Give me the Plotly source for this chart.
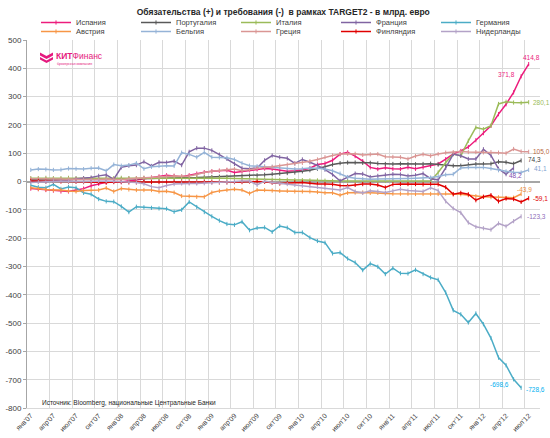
import plotly.graph_objects as go

# ---------------- data (billion EUR, monthly from Jan 2007) ----------------
tick_labels = ["янв'07", "апр'07", "июл'07", "окт'07", "янв'08", "апр'08", "июл'08", "окт'08",
               "янв'09", "апр'09", "июл'09", "окт'09", "янв'10", "апр'10", "июл'10", "окт'10",
               "янв'11", "апр'11", "июл'11", "окт'11", "янв'12", "апр'12", "июл'12"]

spain = [-25, -27, -30, -32, -35, -35, -30, -25, -15, -8,
         -3, 0, -2, 3, 5, 10, 14, 18, 22, 20,
         17, 22, 28, 33, 36, 38, 40, 32, 36, 40,
         43, 46, 44, 40, 36, 38, 41, 47, 60, 64,
         75, 97, 103, 90, 72, 50, 44, 49, 45, 44,
         50, 45, 50, 55, 62, 79, 98, 108, 122, 146,
         171, 197, 238, 273, 315, 371.8, 414.8]

portugal = [6, 6, 7, 7, 6, 6, 7, 7, 8, 8,
            9, 9, 9, 10, 10, 10, 11, 12, 12, 12,
            13, 14, 14, 15, 16, 17, 17, 18, 20, 21,
            22, 24, 26, 28, 30, 32, 36, 40, 45, 52,
            60, 65, 67, 67, 66, 66, 64, 62, 62, 63,
            62, 61, 62, 63, 60, 57, 56, 56, 60, 62,
            62, 63, 70, 68, 63, 74.3]

italy = [12, 12, 13, 12, 12, 13, 12, 12, 12, 13,
         12, 12, 13, 12, 12, 12, 12, 13, 13, 14,
         14, 14, 14, 13, 13, 12, 12, 11, 10, 9,
         8, 8, 7, 6, 6, 5, 5, 4, 4, 3,
         2, 2, 2, 2, 2, 2, 2, 2, 2, 2,
         2, 2, 2, 2, 32, 67, 97, 91, 144, 191,
         185, 197, 274, 282, 279, 278, 280.1]

france = [2, 0, 0, 2, 3, 5, 10, 12, 14, 20,
          24, 8, 50, 56, 58, 70, 55, 68, 67, 72,
          58, 105, 118, 118, 110, 95, 80, 62, 47, 45,
          48, 75, 92, 86, 82, 64, 78, 68, 57, 42,
          25, 2, 15, 28, 27, 16, 20, 24, 26, 25,
          20, 22, 28, 10, 6, 48, 97, 91, 80, 80,
          114, 92, 45, 26, 48.2]

germany = [-13, -20, -22, -10, -26, -19, -22, -40, -45, -62,
           -70, -71, -88, -108, -89, -91, -93, -95, -96, -107,
           -100, -72, -90, -108, -123, -138, -150, -153, -142, -172,
           -164, -162, -178, -157, -163, -180, -180, -198, -210, -216,
           -254, -251, -272, -286, -313, -290, -301, -327, -306, -324,
           -325, -312, -327, -339, -347, -392, -455, -469, -498, -466,
           -504, -553, -622, -649, -698.6, -728.6]

austria = [-22, -26, -28, -30, -30, -33, -35, -32, -30, -30,
           -23, -35, -25, -28, -30, -30, -30, -35, -34, -39,
           -51, -52, -54, -54, -39, -33, -30, -27, -30, -42,
           -30, -30, -32, -33, -33, -35, -35, -35, -37, -40,
           -40, -48, -40, -39, -39, -40, -40, -42, -43, -43,
           -43, -44, -44, -44, -44, -42, -44, -45, -48, -52,
           -54, -55, -56, -58, -57, -43.9]

belgium = [41, 44, 43, 41, 42, 46, 45, 44, 47, 48,
           38, 60, 56, 58, 65, 45, 52, 55, 56, 55,
           102, 96, 86, 103, 86, 85, 84, 78, 65, 56,
           54, 54, 52, 50, 46, 44, 45, 48, 47, 44,
           38, 28, 16, 12, 9, 8, 9, 9, 10, 10,
           11, 12, 13, 14, 18, 24, 26, 48, 50, 50,
           50, 46, 40, 36, 33, 32, 41.1]

greece = [10, 10, 10, 9, 9, 8, 8, 7, 6, 7,
          9, 8, 6, 10, 12, 14, 14, 16, 18, 20,
          19, 20, 25, 32, 36, 38, 42, 44, 38, 42,
          48, 50, 52, 56, 60, 64, 66, 72, 78, 86,
          92, 97, 98, 98, 94, 96, 97, 88, 87, 86,
          80, 90, 96, 91, 97, 102, 104, 106, 104, 104,
          103, 104, 102, 100, 115, 106, 105.0]

finland = [2, 2, 1, 1, 0, 0, -1, -2, -2, -3,
           -3, -2, -2, -3, -3, -2, -2, -2, -3, -2,
           -3, -3, -3, -2, -2, -3, -3, -2, -2, 0,
           0, -1, -4, -7, -5, -3, -3, -6, -9, -9,
           -10, -14, -15, -12, -9, -9, -12, -21, -10, -9,
           -9, -9, -10, -9, -10, -20, -45, -40, -45, -66,
           -54, -48, -70, -60, -62, -72, -59.1]

netherlands = [-3, -2, 0, 2, 2, 1, 0, 0, 1, 2,
               2, 1, 0, 0, -3, -8, -18, -22, -14, -9,
               -7, -7, -7, -6, -5, -3, -3, 0, 2, 2,
               -12, 2, -3, -6, -9, -12, -15, -17, -19, -23,
               -27, -30, -21, -35, -40, -33, -35, -39, -33, -27,
               -32, -33, -35, -22, -32, -70, -95, -110, -145, -160,
               -165, -170, -148, -158, -140, -123.3]

names = ["Испания", "Португалия", "Италия", "Франция", "Германия",
         "Австрия", "Бельгия", "Греция", "Финляндия", "Нидерланды"]
series = [spain, portugal, italy, france, germany,
          austria, belgium, greece, finland, netherlands]
colors = ["#EC1C7C", "#595959", "#9BBB59", "#8064A2", "#4BACC6",
          "#F79646", "#95B3D7", "#DA9694", "#E00000", "#B3A2C7"]

y_ticks = list(range(500, -801, -100))

# ---------------- figure ----------------
FONT = "Liberation Sans, Arial, sans-serif"
L, R, T, B = 27, 10, 40, 30
PW, PH = 550 - L - R, 438 - T - B


def px(xp):
    return (xp - L) / PW


def py(yp):
    return (438 - B - yp) / PH


fig = go.Figure()
for k, (name, vals, col) in enumerate(zip(names, series, colors)):
    fig.add_trace(go.Scatter(
        x=list(range(len(vals))), y=vals, name=name, mode="lines+markers",
        legend="legend" if k < 5 else "legend2",
        line=dict(color=col, width=1.5),
        marker=dict(symbol="line-ns", size=3, line=dict(color=col, width=1)),
        hoverinfo="skip"))


def lab(s, idx, color, **kw):
    vals = series[names.index(s)]
    i = idx if idx >= 0 else len(vals) + idx
    v = vals[i]
    fig.add_annotation(x=i, y=v, xref="x", yref="y",
                       text=f"{v:.1f}".replace(".", ","), showarrow=False, borderpad=0,
                       font=dict(family=FONT, size=6.5, color=color), **kw)


lab("Испания", -1, "#EC1C7C", xanchor="center", yanchor="bottom", xshift=3, yshift=2)
lab("Испания", -2, "#EC1C7C", xanchor="right", yanchor="middle", xshift=-5, yshift=2)
lab("Италия", -1, "#9BBB59", xanchor="left", yanchor="middle", xshift=3)
lab("Греция", -1, "#B8693F", xanchor="left", yanchor="middle", xshift=3)
lab("Португалия", -1, "#404040", xanchor="left", yanchor="middle", xshift=6, yshift=1)
lab("Бельгия", -1, "#7FA3D0", xanchor="left", yanchor="middle", xshift=4, yshift=1)
lab("Франция", -1, "#7F4FB0", xanchor="center", yanchor="top", xshift=2, yshift=-3)
lab("Австрия", -1, "#E98B3A", xanchor="center", yanchor="bottom", xshift=3, yshift=0)
lab("Финляндия", -1, "#E00000", xanchor="left", yanchor="middle", xshift=3)
lab("Нидерланды", -1, "#8E6CB8", xanchor="left", yanchor="middle", xshift=5)
lab("Германия", -2, "#00B0F0", xanchor="right", yanchor="top", xshift=-4, yshift=-1)
lab("Германия", -1, "#00B0F0", xanchor="left", yanchor="middle", xshift=4, yshift=-2)

# source note
fig.add_annotation(x=px(40), y=py(403), xref="paper", yref="paper", xanchor="left", yanchor="middle",
                   text="Источник: Bloomberg, национальные Центральные Банки", showarrow=False,
                   font=dict(family=FONT, size=6.5, color="#262626"))

# logo (decorative)
fig.add_shape(type="path", xref="paper", yref="paper", line=dict(width=0), fillcolor="#E5197E",
              path=(f"M {px(40)} {py(52.5)} L {px(46.5)} {py(56)} L {px(53)} {py(52.5)} "
                    f"L {px(53)} {py(55.5)} L {px(46.5)} {py(59)} L {px(40)} {py(55.5)} Z "
                    f"M {px(40)} {py(57)} L {px(46.5)} {py(60.5)} L {px(53)} {py(57)} "
                    f"L {px(53)} {py(59.5)} L {px(46.5)} {py(63)} L {px(40)} {py(59.5)} Z"))
fig.add_annotation(x=px(54), y=py(56), xref="paper", yref="paper", xanchor="left", yanchor="middle",
                   text="<b>КИТ</b>Финанс", showarrow=False,
                   font=dict(family=FONT, size=8.5, color="#E5197E"))
fig.add_annotation(x=px(55), y=py(64), xref="paper", yref="paper", xanchor="left", yanchor="middle",
                   text="брокерская компания", showarrow=False,
                   font=dict(family=FONT, size=3.5, color="#E5197E"))

legend_common = dict(orientation="h", xanchor="left", yanchor="top",
                     entrywidth=55, entrywidthmode="pixels", itemwidth=30,
                     font=dict(family=FONT, size=7.5, color="#404040"),
                     bgcolor="rgba(0,0,0,0)", tracegroupgap=0, traceorder="normal")

fig.update_layout(
    width=550, height=438,
    margin=dict(l=L, r=R, t=T, b=B, autoexpand=False),
    paper_bgcolor="white", plot_bgcolor="white",
    font=dict(family=FONT, size=8, color="#404040"),
    title=dict(text="<b>Обязательства (+) и требования (-)  в рамках TARGET2 - в млрд. евро</b>",
               x=0.515, xanchor="center", y=1 - 12 / 438, yanchor="middle", yref="container",
               font=dict(family=FONT, size=8.5, color="#262626")),
    showlegend=True,
    legend=dict(x=px(36), y=py(8), **legend_common),
    legend2=dict(x=px(36), y=py(17), **legend_common),
    xaxis=dict(range=[-0.5, 67.5], tickmode="array", tickvals=list(range(0, 67, 3)),
               ticktext=tick_labels, tickangle=-45, showgrid=False, zeroline=False,
               showline=True, linecolor="#D9D9D9", ticks="",
               tickfont=dict(family=FONT, size=7, color="#404040"),
               minor=dict(tickmode="linear", tick0=-0.5, dtick=3, showgrid=True,
                          gridcolor="#D9D9D9", gridwidth=1, ticks="")),
    yaxis=dict(range=[-800, 500], tickmode="array", tickvals=y_ticks,
               ticktext=[str(v) for v in y_ticks], showgrid=True, gridcolor="#D9D9D9",
               gridwidth=1, zeroline=True, zerolinecolor="#A6A6A6", zerolinewidth=1.5,
               showline=True, linecolor="#A6A6A6", ticks="outside", ticklen=3,
               tickcolor="#A6A6A6", tickfont=dict(family=FONT, size=8, color="#404040")),
)

fig.write_html("out.html", config={"displayModeBar": False},
               post_script="document.body.style.margin='0px';")
